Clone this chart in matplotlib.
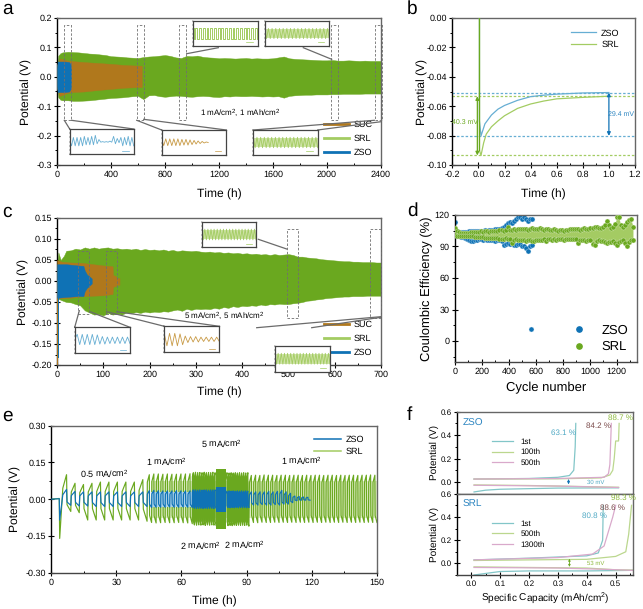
import numpy as np
import matplotlib
matplotlib.use("Agg")
import matplotlib.pyplot as plt
from matplotlib.lines import Line2D
from matplotlib.patches import Rectangle
from matplotlib.ticker import MultipleLocator, FormatStrFormatter, FuncFormatter

W, H = 643, 609

ZSO = "#0F72B5"
SRL = "#6AA81F"
SUC = "#B0781C"
ZSO_LIGHT = "#66AED3"
SRL_LIGHT = "#A3CC62"
F_CYAN = "#82C6C8"
F_GREEN = "#BBD78E"
F_PINK = "#D9A9CB"

# panel a: envelopes of the cycling traces
A_SRL_T = [0, 10, 25] + list(range(40, 2401, 40))
A_SRL_HI = [0.03, 0.072, 0.08,
            0.083, 0.085, 0.084, 0.083, 0.081, 0.079, 0.078, 0.076, 0.074, 0.07,
            0.069, 0.068, 0.066, 0.065, 0.064, 0.067, 0.069, 0.07, 0.072, 0.074,
            0.071, 0.066, 0.064, 0.071, 0.07, 0.072, 0.068, 0.066, 0.065, 0.063,
            0.064, 0.063, 0.062, 0.063, 0.064, 0.062, 0.063, 0.062, 0.062, 0.063,
            0.066, 0.069, 0.063, 0.061, 0.06, 0.059, 0.058, 0.057, 0.056, 0.056,
            0.057, 0.055, 0.055, 0.056, 0.055, 0.054, 0.055, 0.054, 0.054, 0.054]
A_SRL_LO = [-0.03, -0.07, -0.078,
            -0.08, -0.08, -0.082, -0.082, -0.081, -0.08, -0.078, -0.076, -0.074, -0.072,
            -0.071, -0.07, -0.068, -0.066, -0.065, -0.076, -0.063, -0.062, -0.066, -0.068,
            -0.066, -0.064, -0.065, -0.067, -0.068, -0.066, -0.065, -0.066, -0.068, -0.069,
            -0.066, -0.067, -0.065, -0.066, -0.066, -0.065, -0.066, -0.067, -0.066, -0.067,
            -0.066, -0.071, -0.065, -0.063, -0.062, -0.061, -0.061, -0.06, -0.06, -0.06,
            -0.059, -0.059, -0.058, -0.058, -0.058, -0.058, -0.057, -0.057, -0.057, -0.057]
A_SUC_T = [0, 20, 60, 100, 200, 300, 400, 500, 600, 628]
A_SUC_HI = [0.04, 0.062, 0.057, 0.054, 0.05, 0.047, 0.044, 0.04, 0.038, 0.038]
A_SUC_LO = [-0.04, -0.065, -0.058, -0.052, -0.05, -0.045, -0.041, -0.037, -0.035, -0.035]
A_ZSO_T = [0, 5, 60, 90, 100, 105]
A_ZSO_HI = [0.03, 0.052, 0.052, 0.05, 0.042, 0.028]
A_ZSO_LO = [-0.03, -0.052, -0.052, -0.05, -0.042, -0.028]

# panel b: first-cycle polarisation
B_ZSO_T = [0.008, 0.008, 0.02, 0.05, 0.1, 0.15, 0.2, 0.3, 0.4, 0.5, 0.6, 0.8, 1.0]
B_ZSO_V = [0.0, -0.07, -0.0802, -0.072, -0.066, -0.062, -0.0595, -0.056, -0.0535, -0.0525, -0.0518, -0.051, -0.0507]
B_SRL_T = [0.008, 0.008, 0.02, 0.04, 0.06, 0.1, 0.15, 0.2, 0.3, 0.4, 0.5, 0.6, 0.8, 1.0]
B_SRL_V = [0.0, -0.09, -0.0935, -0.085, -0.079, -0.074, -0.07, -0.0665, -0.0615, -0.0585, -0.0565, -0.055, -0.054, -0.0532]

# panel c: envelopes
C_SRL_T = [0, 3, 8, 15] + list(range(20, 701, 10))
C_SRL_HI = [0.03, 0.068, 0.05, 0.06,
            0.072, 0.073, 0.077, 0.075, 0.08, 0.077, 0.08, 0.077, 0.079, 0.08,
            0.077, 0.078, 0.076, 0.077, 0.075, 0.077, 0.074, 0.076, 0.074, 0.075,
            0.073, 0.075, 0.072, 0.074, 0.071, 0.073, 0.072, 0.071, 0.072, 0.07,
            0.069, 0.07, 0.068, 0.069, 0.067, 0.068, 0.066, 0.067, 0.065, 0.066,
            0.064, 0.065, 0.063, 0.064, 0.062, 0.064, 0.062, 0.063, 0.064, 0.062,
            0.058, 0.058, 0.056, 0.055, 0.054, 0.052, 0.051, 0.05, 0.049, 0.048,
            0.047, 0.047, 0.046, 0.046, 0.045, 0.045, 0.045, 0.044, 0.044]
C_SRL_LO = [-0.04, -0.042, -0.045, -0.048,
            -0.05, -0.051, -0.055, -0.058, -0.07, -0.075, -0.08, -0.079, -0.082, -0.076,
            -0.08, -0.078, -0.08, -0.075, -0.077, -0.074, -0.076, -0.073, -0.075, -0.073,
            -0.074, -0.072, -0.073, -0.07, -0.068, -0.071, -0.066, -0.069, -0.066, -0.067,
            -0.066, -0.067, -0.064, -0.066, -0.062, -0.064, -0.06, -0.062, -0.059, -0.06,
            -0.058, -0.059, -0.056, -0.058, -0.055, -0.056, -0.054, -0.055, -0.055, -0.053,
            -0.052, -0.05, -0.047, -0.046, -0.044, -0.043, -0.041, -0.04, -0.039, -0.038,
            -0.037, -0.037, -0.036, -0.036, -0.036, -0.035, -0.035, -0.035, -0.035]
C_SUC_T = [0, 10, 30, 55, 100, 120, 121, 127, 128, 135]
C_SUC_HI = [0.05, 0.046, 0.044, 0.043, 0.037, 0.035, 0.014, 0.012, 0.007, 0.007]
C_SUC_LO = [-0.042, -0.041, -0.04, -0.036, -0.034, -0.031, -0.014, -0.012, -0.009, -0.009]
C_ZSO_T = [0, 20, 45, 57, 60, 65, 70, 75]
C_ZSO_HI = [0.04, 0.04, 0.037, 0.036, 0.025, 0.015, 0.011, 0.006]
C_ZSO_LO = [-0.04, -0.038, -0.036, -0.036, -0.024, -0.016, -0.011, -0.006]

# panel d: coulombic efficiency, upper and lower edge of the scatter
ZSO_D_CYCLES = np.arange(0, 571, 15)
ZSO_D_HI = [113, 105, 104, 104, 104, 104, 104, 105, 105, 105, 105, 105, 105, 105, 105, 106, 105, 106, 106, 106,
            107, 107, 107, 108, 109, 110, 112, 113, 112, 114, 116, 118, 118, 116, 118, 116, 114, 116, 116]
ZSO_D_LO = [104, 100, 100, 99, 99, 98, 97, 96, 95, 95, 96, 96, 97, 97, 96, 97, 96, 96, 96, 96,
            95, 96, 96, 95, 91, 92, 93, 92, 93, 91, 91, 92, 92, 90, 90, 89, 86, 90, 91]
ZSO_D_OUTLIER = (565, 11)
SRL_D_CYCLES = np.arange(0, 1321, 15)
SRL_D_HI = [108, 105, 104, 103, 103, 103, 103, 103, 104, 104,
            104, 104, 104, 105, 104, 105, 105, 104, 105, 105,
            105, 105, 106, 106, 105, 106, 109, 106, 106, 107,
            106, 107, 107, 107, 107, 107, 106, 107, 108, 107,
            107, 107, 108, 107, 106, 107, 107, 106, 106, 107,
            106, 105, 106, 106, 105, 106, 106, 107, 107, 107,
            107, 107, 106, 107, 108, 107, 107, 108, 108, 109,
            109, 108, 108, 109, 110, 114, 110, 108, 109, 111,
            118, 118, 110, 109, 110, 113, 115, 116, 109]
SRL_D_LO = [101, 100, 100, 100, 100, 100, 100, 100, 100, 100,
            99, 99, 99, 99, 99, 98, 98, 98, 98, 98,
            98, 98, 97, 97, 97, 98, 97, 97, 93, 96,
            97, 96, 96, 96, 96, 95, 96, 96, 95, 95,
            96, 96, 96, 96, 97, 95, 97, 97, 96, 97,
            96, 97, 97, 97, 96, 97, 97, 97, 97, 97,
            97, 93, 96, 96, 96, 95, 96, 96, 92, 91,
            95, 96, 95, 95, 94, 93, 94, 94, 95, 93,
            91, 94, 95, 96, 93, 90, 94, 96, 96]

# panel e: rate test, one peak and one trough per cycle
E_INTRO_T = [0, 3.8, 4.0]
E_SRL_INTRO = [0.0, 0.003, -0.16]
E_ZSO_INTRO = [0.0, 0.002, -0.085]
E_SRL_05_PK = [0.10, 0.065, 0.06, 0.065, 0.07, 0.07, 0.07, 0.07, 0.07, 0.08]
E_SRL_05_TR = [-0.05, -0.055, -0.085, -0.085, -0.085, -0.085, -0.085, -0.085, -0.085, -0.09]
E_ZSO_05_PK = [0.04, 0.032, 0.03, 0.03, 0.03, 0.03, 0.03, 0.03, 0.03, 0.03]
E_ZSO_05_TR = [-0.025, -0.028, -0.028, -0.03, -0.03, -0.03, -0.03, -0.03, -0.03, -0.03]
E_SRL_1A_PK = [0.10, 0.103, 0.103, 0.102, 0.103, 0.102, 0.102, 0.103, 0.103, 0.104]
E_SRL_1A_TR = [-0.095, -0.097, -0.096, -0.095, -0.096, -0.096, -0.095, -0.096, -0.097, -0.1]
E_ZSO_1A_PK = [0.035, 0.036, 0.035, 0.034, 0.034, 0.034, 0.035, 0.034, 0.034, 0.034]
E_ZSO_1A_TR = [-0.034, -0.033, -0.033, -0.033, -0.032, -0.033, -0.033, -0.032, -0.033, -0.034]
E_SRL_2A_PK = [0.108, 0.11, 0.108, 0.109, 0.108, 0.11, 0.108, 0.109, 0.108, 0.11, 0.108]
E_SRL_2A_TR = [-0.105, -0.106, -0.105, -0.106, -0.105, -0.107, -0.105, -0.106, -0.105, -0.106, -0.108]
E_ZSO_2A_PK = [0.038, 0.038, 0.037, 0.038, 0.037, 0.038, 0.038, 0.037, 0.038, 0.038, 0.038]
E_ZSO_2A_TR = [-0.037, -0.038, -0.037, -0.037, -0.038, -0.037, -0.038, -0.037, -0.037, -0.038, -0.037]
E_5A_T = [76, 80.5]
E_SRL_5A_HI = [0.122, 0.122]
E_SRL_5A_LO = [-0.12, -0.12]
E_ZSO_5A_HI = [0.05, 0.05]
E_ZSO_5A_LO = [-0.053, -0.053]
E_SRL_2B_PK = [0.108, 0.107, 0.108, 0.107, 0.108, 0.107, 0.108, 0.107, 0.108, 0.107, 0.108]
E_SRL_2B_TR = [-0.108, -0.107, -0.108, -0.106, -0.107, -0.106, -0.107, -0.106, -0.107, -0.106, -0.11]
E_ZSO_2B_PK = [0.033, 0.034, 0.033, 0.034, 0.033, 0.034, 0.033, 0.034, 0.033, 0.034, 0.033]
E_ZSO_2B_TR = [-0.034, -0.035, -0.034, -0.035, -0.034, -0.035, -0.034, -0.035, -0.034, -0.035, -0.034]
E_SRL_1B_PK = [0.097, 0.098, 0.097, 0.099, 0.098, 0.098, 0.097, 0.098, 0.098, 0.097, 0.098, 0.098, 0.097, 0.098, 0.097,
               0.098, 0.098, 0.097, 0.098, 0.098, 0.097, 0.098, 0.097, 0.098, 0.098, 0.097, 0.098, 0.098, 0.099, 0.098]
E_SRL_1B_TR = [-0.095, -0.096, -0.094, -0.095, -0.095, -0.094, -0.095, -0.094, -0.095, -0.094, -0.095, -0.094, -0.095,
               -0.094, -0.095, -0.094, -0.095, -0.094, -0.095, -0.094, -0.095, -0.094, -0.095, -0.094, -0.095, -0.094,
               -0.095, -0.094, -0.095, -0.095]
E_ZSO_1B_PK = [0.03, 0.03, 0.03, 0.03, 0.032, 0.03, 0.032, 0.036, 0.03, 0.024, 0.013, 0.011, 0.009, 0.008]
E_ZSO_1B_TR = [-0.024, -0.024, -0.022, -0.024, -0.024, -0.022, -0.024, -0.02, -0.02, -0.014, -0.006, -0.004, -0.004, -0.004]
E_SRL_PALE_T = [46, 150]
E_SRL_PALE_HI = [0.075, 0.075]
E_SRL_PALE_LO = [-0.075, -0.075]
E_ZSO_PALE_T = [46, 65]
E_ZSO_PALE_HI = [0.03, 0.03]
E_ZSO_PALE_LO = [-0.03, -0.03]

# panel f: voltage profiles
F_ZSO_CURVES = [
    ([0.01, 0.2, 0.3, 0.34, 0.355, 0.36, 0.362], [0.025, 0.03, 0.04, 0.055, 0.1, 0.3, 0.5], F_CYAN, "1st"),
    ([0.01, 0.3, 0.45, 0.48, 0.49, 0.495, 0.5, 0.51, 0.512], [0.025, 0.027, 0.035, 0.06, 0.1, 0.2, 0.35, 0.35, 0.5], F_GREEN, "100th"),
    ([0.01, 0.3, 0.46, 0.475, 0.48, 0.485], [0.025, 0.03, 0.04, 0.07, 0.15, 0.5], F_PINK, "500th"),
]
F_ZSO_DIS = [
    ([0.01, 0.05, 0.1, 0.3, 0.51], [-0.085, -0.07, -0.062, -0.052, -0.05], F_CYAN),
    ([0.01, 0.2, 0.51], [-0.025, -0.03, -0.045], F_GREEN),
    ([0.01, 0.3, 0.51], [-0.028, -0.035, -0.047], F_PINK),
]
F_SRL_CURVES = [
    ([0.01, 0.2, 0.4, 0.44, 0.455, 0.457], [0.03, 0.045, 0.065, 0.09, 0.2, 0.5], F_CYAN, "1st"),
    ([0.01, 0.2, 0.4, 0.5, 0.535, 0.545, 0.555], [0.025, 0.03, 0.035, 0.06, 0.1, 0.25, 0.5], F_GREEN, "500th"),
    ([0.01, 0.3, 0.42, 0.46, 0.49, 0.5], [0.03, 0.05, 0.08, 0.15, 0.4, 0.5], F_PINK, "1300th"),
]
F_SRL_DIS = [
    ([0.01, 0.1, 0.2, 0.4, 0.56], [-0.1, -0.07, -0.065, -0.065, -0.06], F_CYAN),
    ([0.01, 0.2, 0.4, 0.5, 0.56], [-0.03, -0.035, -0.04, -0.055, -0.058], F_GREEN),
    ([0.01, 0.3, 0.45, 0.56], [-0.035, -0.04, -0.05, -0.06], F_PINK),
]

# small inset traces
INSET_A1 = [0.2, -0.4, 0.4, -0.4, 0.4, -0.4, 0.4, -0.4, 0.5, -0.3, 0.4, -0.3, 0.5, -0.3, 0.6, -0.2, 0.2, -0.05, 0.0, -0.05, 0.0,
            -0.05, 0.05, -0.05, 0.5, -0.2, 0.3, -0.1, 0.4, -0.4, 0.4, -0.3, 0.5, -0.4, 0.4, -0.4]
INSET_A2 = [0.3, -0.3, 0.35, -0.3, 0.35, -0.3, 0.35, -0.3, 0.35, -0.3, 0.3, -0.25, 0.3, -0.25, 0.25, -0.2, 0.2, -0.15, 0.15,
            -0.1, 0.1, -0.05, 0.05, 0.0]
INSET_A4 = [0.5, -0.5, 0.5, -0.5, 0.5, -0.5, 0.5, -0.5, 0.5, -0.5, 0.5, -0.5, 0.5, -0.5, 0.5, -0.5, 0.5, -0.5, 0.5, -0.5,
            0.5, -0.5, 0.5, -0.5, 0.5, -0.5, 0.5, -0.5, 0.5, -0.5, 0.5, -0.5, 0.5, -0.5, 0.5, -0.5]
INSET_C1 = [0.1, 0.55, -0.4, 0.55, -0.4, 0.55, -0.4, 0.55, -0.4, 0.5, -0.35, 0.35, -0.35, 0.3, -0.3, 0.3, -0.3, 0.3, -0.3, 0.3, -0.3, 0.3, -0.3]
INSET_C2 = [0.5, -0.6, 0.55, -0.6, 0.55, -0.6, 0.5, -0.5, 0.3, -0.3, 0.25, -0.25, 0.25, -0.25, 0.2, -0.2, 0.2, -0.2, 0.2, -0.2, 0.2, -0.2]


def px_axes(fig, left, top, right, bottom, **kw):
    return fig.add_axes([left / W, 1 - bottom / H, (right - left) / W, (bottom - top) / H], **kw)


def px_line(fig, x0, y0, x1, y1):
    fig.add_artist(Line2D([x0 / W, x1 / W], [1 - y0 / H, 1 - y1 / H], color="#6b6b6b", lw=0.9))


def style(ax, xmaj, xmin, ymaj, ymin, yfmt):
    ax.xaxis.set_major_locator(MultipleLocator(xmaj))
    ax.xaxis.set_minor_locator(MultipleLocator(xmin))
    ax.yaxis.set_major_locator(MultipleLocator(ymaj))
    ax.yaxis.set_minor_locator(MultipleLocator(ymin))
    # abs() guard stops the top tick of panel b printing as -0.00
    ax.yaxis.set_major_formatter(FuncFormatter(lambda v, _: yfmt % (0.0 if abs(v) < 1e-9 else v)))
    ax.tick_params(which="major", direction="inout", length=4.5, width=0.8, labelsize=6.6, pad=1.5)
    ax.tick_params(axis="y", which="minor", direction="out", length=1.8, width=0.7)
    ax.tick_params(axis="x", which="minor", direction="in", length=1.8, width=0.7)
    for side in ["top", "right"]:
        ax.spines[side].set_color("#666666")
    ax.spines["bottom"].set_color("#444444")
    for side in ax.spines:
        ax.spines[side].set_linewidth(1.0)


def band(ax, t, hi, lo, color, z):
    ax.fill_between(t, lo, hi, color=color, lw=0.3, zorder=z)


def dashed_box(ax, t0, t1, y0, y1):
    ax.add_patch(Rectangle((t0, y0), t1 - t0, y1 - y0, fill=False, ec="#6f6f6f", lw=0.6, ls=(0, (3, 2)),
                           zorder=6, clip_on=False))


def inset(fig, box, color, wave=None, fill=None, key=None):
    ax = px_axes(fig, *box, zorder=8)
    ax.set_xlim(0, 1)
    ax.set_ylim(-1.2, 1.2)
    ax.set_xticks(np.linspace(0, 1, 7))
    ax.set_yticks(np.linspace(-1.2, 1.2, 7))
    ax.tick_params(length=1, width=0.3, labelleft=False, labelbottom=False)
    for side in ax.spines:
        ax.spines[side].set_linewidth(0.9)
        ax.spines[side].set_color("#444444")
    if fill is not None:
        ax.fill_between([0, 1], [-0.45, -0.45], [0.45, 0.45], color=fill, lw=0)
    if wave is not None:
        wave = np.asarray(wave)
        if key == "tail":
            t = np.linspace(0, 0.72, len(wave))
        else:
            t = np.linspace(0, 1, len(wave))
        if key == "square":
            ax.step(t, wave, where="mid", color=color, lw=0.7)
        else:
            ax.plot(t, wave, color=color, lw=0.6)
    ax.plot([0.82, 0.92], [-0.85, -0.85], color=color, lw=0.5)
    return ax


def zigzag(start, period, peaks, troughs, jump):
    """One parallelogram-shaped cycle per peak/trough pair."""
    t, v = [], []
    for i, (pk, tr) in enumerate(zip(peaks, troughs)):
        t0 = start + i * period
        t += [t0 + 0.06 * period, t0 + 0.5 * period, t0 + 0.56 * period, t0 + period]
        v += [jump * pk, pk, jump * tr, tr]
    return t, v


def rate_trace(intro_t, intro_v, sections):
    t, v = list(intro_t), list(intro_v)
    for start, period, pk, tr, jump in sections:
        st, sv = zigzag(start, period, pk, tr, jump)
        t += st
        v += sv
    return t, v


plt.rcParams["font.family"] = ["Liberation Sans", "DejaVu Sans"]
plt.rcParams["mathtext.default"] = "regular"
plt.rcParams["axes.unicode_minus"] = False
plt.rcParams["text.hinting"] = "no_hinting"
plt.rcParams["text.hinting_factor"] = 1

fig = plt.figure(figsize=(W / 100, H / 100), dpi=100)

for letter, x, y in [("a", 2, 9), ("b", 407, 9), ("c", 2, 212), ("d", 407, 211), ("e", 2, 416), ("f", 407, 415)]:
    fig.text(x / W, 1 - y / H, letter, fontsize=14, va="center", ha="left")

legend_handles = [Line2D([], [], color=SUC, lw=2), Line2D([], [], color=SRL_LIGHT, lw=2), Line2D([], [], color=ZSO, lw=2)]

# panel a
ax = px_axes(fig, 57, 18, 381, 165)
band(ax, A_SRL_T, A_SRL_HI, A_SRL_LO, SRL, 2)
band(ax, A_SUC_T, A_SUC_HI, A_SUC_LO, SUC, 3)
band(ax, A_ZSO_T, A_ZSO_HI, A_ZSO_LO, ZSO, 4)
ax.plot([2, 2], [0, -0.13], color=SRL_LIGHT, lw=0.7, zorder=1)
ax.set_xlim(0, 2400)
ax.set_ylim(-0.3, 0.2)
style(ax, 400, 200, 0.1, 0.05, "%.1f")
ax.set_xlabel("Time (h)", fontsize=8.7, labelpad=7)
ax.set_ylabel("Potential (V)", fontsize=8.7, labelpad=3)
for t0, t1 in [(54, 106), (590, 643), (907, 959), (2027, 2079), (2353, 2405)]:
    dashed_box(ax, t0, t1, -0.148, 0.177)
ax.text(1357, -0.124, "1 mA/cm$^2$, 1 mAh/cm$^2$", fontsize=6, ha="center", va="center")
ax.legend(legend_handles, ["SUC", "SRL", "ZSO"], loc="lower right", bbox_to_anchor=(1.0, 0.0), frameon=False,
          fontsize=6.4, handlelength=2.8, labelspacing=0.65, borderaxespad=0.5, handletextpad=0.6)
inset(fig, (69.7, 129, 133.7, 154.3), ZSO_LIGHT, INSET_A1)
inset(fig, (161.7, 130, 226.3, 155), "#C89A45", INSET_A2, key="tail")
inset(fig, (253.3, 130, 317.7, 155), SRL_LIGHT, INSET_A4, fill="#CFE3A8")
inset(fig, (192.7, 21.3, 257.7, 45.7), SRL_LIGHT, INSET_A4, key="square")
inset(fig, (264.7, 21.3, 329.3, 45.7), SRL_LIGHT, INSET_A4, fill="#CFE3A8")
for seg in [(71.5, 120.3, 133.7, 129), (64.3, 120.3, 69.7, 129), (136.7, 120.3, 161.7, 130), (143.7, 119.3, 226.3, 130),
            (374.3, 120.3, 253.3, 130), (381, 121.7, 317.7, 130), (186.7, 53.7, 218.3, 47.7), (303.3, 47.7, 331.7, 59.3)]:
    px_line(fig, *seg)

# panel b
ax = px_axes(fig, 452.3, 18, 635, 165)
for level, c in [(-0.0507, ZSO_LIGHT), (-0.0532, SRL_LIGHT), (-0.0802, ZSO_LIGHT), (-0.0935, SRL_LIGHT)]:
    ax.axhline(level, color=c, lw=0.9, ls=(0, (2, 1.5)), zorder=1)
ax.plot(B_ZSO_T, B_ZSO_V, color=ZSO_LIGHT, lw=0.9, label="ZSO", zorder=3)
ax.plot(B_SRL_T, B_SRL_V, color=SRL_LIGHT, lw=0.9, label="SRL", zorder=3)
ax.plot([0.008, 0.008], [0, -0.09], color=SRL, lw=0.9, zorder=4)
ax.annotate("", xy=(-0.008, -0.0532), xytext=(-0.008, -0.0935),
            arrowprops=dict(arrowstyle="<|-|>", color=SRL, lw=0.9, mutation_scale=5, shrinkA=0, shrinkB=0))
ax.annotate("", xy=(1.0, -0.0507), xytext=(1.0, -0.0802),
            arrowprops=dict(arrowstyle="<|-|>", color=ZSO, lw=0.9, mutation_scale=5, shrinkA=0, shrinkB=0))
ax.text(-0.10, -0.0707, "40.3 mV", color=SRL, fontsize=5, ha="center", va="center")
ax.text(1.096, -0.0652, "29.4 mV", color="#2E86C1", fontsize=5, ha="center", va="center")
ax.set_xlim(-0.2, 1.2)
ax.set_ylim(-0.1, 0.0)
style(ax, 0.2, 0.1, 0.02, 0.01, "%.2f")
ax.xaxis.set_major_formatter(FormatStrFormatter("%.1f"))
ax.set_xlabel("Time (h)", fontsize=8.7, labelpad=7)
ax.set_ylabel("Potential (V)", fontsize=8.7, labelpad=-1)
ax.legend(loc="upper right", bbox_to_anchor=(0.96, 0.98), frameon=False, fontsize=6.4, handlelength=2.8,
          labelspacing=0.4, handletextpad=0.6)

# panel c
ax = px_axes(fig, 57, 218, 381, 365)
band(ax, C_SRL_T, C_SRL_HI, C_SRL_LO, SRL, 2)
band(ax, C_SUC_T, C_SUC_HI, C_SUC_LO, SUC, 3)
band(ax, C_ZSO_T, C_ZSO_HI, C_ZSO_LO, ZSO, 4)
ax.plot([1, 1], [0, -0.2], color=SUC, lw=0.7, zorder=3)
ax.plot([2, 2], [0, -0.18], color=ZSO, lw=0.7, zorder=4)
ax.set_xlim(0, 700)
ax.set_ylim(-0.2, 0.15)
style(ax, 100, 50, 0.05, 0.025, "%.2f")
ax.set_xlabel("Time (h)", fontsize=8.7, labelpad=6)
ax.set_ylabel("Potential (V)", fontsize=8.7, labelpad=2)
for t0, t1, y0, y1 in [(46, 70, -0.078, 0.071), (106, 129, -0.078, 0.071), (497, 520, -0.087, 0.125), (677, 700, -0.087, 0.125)]:
    dashed_box(ax, t0, t1, y0, y1)
ax.text(361, -0.083, "5 mA/cm$^2$, 5 mAh/cm$^2$", fontsize=6, ha="center", va="center")
ax.legend(legend_handles, ["SUC", "SRL", "ZSO"], loc="lower right", bbox_to_anchor=(1.0, 0.0), frameon=False,
          fontsize=6.4, handlelength=2.8, labelspacing=0.65, borderaxespad=0.5, handletextpad=0.6)
inset(fig, (74.7, 327.3, 130, 353.3), ZSO_LIGHT, INSET_C1)
inset(fig, (164.3, 326.3, 219.3, 352.3), "#C89A45", INSET_C2)
inset(fig, (201.7, 221.7, 256, 247.3), SRL_LIGHT, INSET_A4, fill="#CFE3A8")
inset(fig, (275, 345.7, 330, 371.7), SRL_LIGHT, INSET_A4, fill="#CFE3A8")
for seg in [(79.3, 310.7, 74.7, 327.3), (90, 311.7, 130, 327.3), (106.7, 311.7, 164.3, 326.3), (116.7, 311.7, 219.3, 326.3),
            (256.7, 327.7, 380.7, 316.7), (311.7, 327.7, 380.7, 317.3), (258.3, 239.3, 286.7, 249)]:
    px_line(fig, *seg)

# panel d
ax = px_axes(fig, 455, 215, 637, 362)
ax.fill_between(SRL_D_CYCLES, SRL_D_LO, SRL_D_HI, color="#A4CB63", lw=0, zorder=3)
ax.scatter(ZSO_D_CYCLES, ZSO_D_HI, s=13, color=ZSO, edgecolors="#cfe4f2", linewidths=0.25, zorder=2)
ax.scatter(ZSO_D_CYCLES, ZSO_D_LO, s=13, color=ZSO, edgecolors="#cfe4f2", linewidths=0.25, zorder=2)
ax.scatter(*ZSO_D_OUTLIER, s=13, color=ZSO, edgecolors="#cfe4f2", linewidths=0.25, zorder=2)
ax.scatter(SRL_D_CYCLES, SRL_D_HI, s=13, color=SRL, edgecolors="#e8f2d8", linewidths=0.25, zorder=4)
ax.scatter(SRL_D_CYCLES, SRL_D_LO, s=13, color=SRL, edgecolors="#e8f2d8", linewidths=0.25, zorder=4)
ax.set_xlim(0, 1350)
ax.set_ylim(-20, 120)
style(ax, 200, 100, 30, 15, "%d")
ax.set_xlabel("Cycle number", fontsize=9, labelpad=4.5)
ax.set_ylabel("Coulombic Efficiency (%)", fontsize=9, labelpad=1)
ax.legend([Line2D([], [], ls="", marker="o", ms=3.8, color=ZSO), Line2D([], [], ls="", marker="o", ms=3.8, color=SRL)],
          ["ZSO", "SRL"], loc="lower right", frameon=False, fontsize=9.3, handletextpad=0.7, labelspacing=0.35,
          borderaxespad=0.3)

# panel e
ax = px_axes(fig, 51, 425.7, 377, 572.7)
srl_t, srl_v = rate_trace(E_INTRO_T, E_SRL_INTRO, [
    (5.2, 3.9, E_SRL_05_PK, E_SRL_05_TR, 0.45),
    (44.2, 2.08, E_SRL_1A_PK, E_SRL_1A_TR, 0.7),
    (65, 1.0, E_SRL_2A_PK, E_SRL_2A_TR, 0.85),
    (80.5, 0.96, E_SRL_2B_PK, E_SRL_2B_TR, 0.85),
    (91.2, 1.96, E_SRL_1B_PK, E_SRL_1B_TR, 0.7),
])
zso_t, zso_v = rate_trace(E_INTRO_T, E_ZSO_INTRO, [
    (5.2, 3.9, E_ZSO_05_PK, E_ZSO_05_TR, 0.45),
    (44.2, 2.08, E_ZSO_1A_PK, E_ZSO_1A_TR, 0.6),
    (65, 1.0, E_ZSO_2A_PK, E_ZSO_2A_TR, 0.8),
    (80.5, 0.96, E_ZSO_2B_PK, E_ZSO_2B_TR, 0.8),
    (91.2, 2.0, E_ZSO_1B_PK, E_ZSO_1B_TR, 0.6),
])
ax.fill_between(E_SRL_PALE_T, E_SRL_PALE_LO, E_SRL_PALE_HI, color="#DDECC2", lw=0, zorder=1)
ax.plot(srl_t, srl_v, color=SRL, lw=0.85, zorder=2)
ax.fill_between(E_ZSO_PALE_T, E_ZSO_PALE_LO, E_ZSO_PALE_HI, color="#A9D1E9", lw=0, zorder=2.5)
ax.plot(zso_t, zso_v, color=ZSO, lw=0.85, zorder=3)
ax.fill_between(E_5A_T, E_SRL_5A_LO, E_SRL_5A_HI, color=SRL, lw=0, zorder=4)
ax.fill_between(E_5A_T, E_ZSO_5A_LO, E_ZSO_5A_HI, color=ZSO, lw=0, zorder=5)
ax.set_xlim(0, 150)
ax.set_ylim(-0.3, 0.3)
style(ax, 30, 15, 0.15, 0.075, "%.2f")
ax.set_xlabel("Time (h)", fontsize=8.7, labelpad=7)
ax.set_ylabel("Potential (V)", fontsize=8.7, labelpad=3)
for txt, t, y in [("0.5 mA/cm$^2$", 24.4, 0.107), ("1 mA/cm$^2$", 53.2, 0.155), ("5 mA/cm$^2$", 78.5, 0.228),
                  ("1 mA/cm$^2$", 115, 0.159), ("2 mA/cm$^2$", 68.5, -0.188), ("2 mA/cm$^2$", 89, -0.184)]:
    ax.text(t, y, txt, fontsize=6.4, ha="center", va="center")
ax.legend([Line2D([], [], color=ZSO, lw=1.1), Line2D([], [], color=SRL_LIGHT, lw=1.1)], ["ZSO", "SRL"], loc="upper right",
          bbox_to_anchor=(0.985, 0.99), frameon=False, fontsize=6.4, handlelength=3, labelspacing=0.4, handletextpad=0.5)

# panel f
ax_top = px_axes(fig, 456.7, 411.7, 633, 493.7)
ax_bot = px_axes(fig, 456.7, 493.7, 633, 575)
for ax, curves, dis in [(ax_top, F_ZSO_CURVES, F_ZSO_DIS), (ax_bot, F_SRL_CURVES, F_SRL_DIS)]:
    for x, y, c, lab in curves:
        ax.plot(x, y, color=c, lw=0.9, label=lab)
    for x, y, c in dis:
        ax.plot(x, y, color=c, lw=0.9)
    ax.set_xlim(-0.05, 0.56)
    ax.set_ylim(-0.1, 0.6)
    style(ax, 0.1, 0.05, 0.2, 0.1, "%.1f")
    ax.xaxis.set_major_formatter(FormatStrFormatter("%.1f"))
    ax.tick_params(axis="both", which="major", labelsize=6)
    ax.set_ylabel("Potential (V)", fontsize=7.4, labelpad=1)
    ax.legend(loc="upper left", bbox_to_anchor=(0.18, 0.72), frameon=False, fontsize=5.8, handlelength=2.6,
              labelspacing=0.4, handletextpad=1.0, borderaxespad=0)
ax_top.tick_params(axis="x", which="both", bottom=False, labelbottom=False)
ax_bot.set_xlabel("Specific Capacity (mAh/cm$^2$)", fontsize=7.4, labelpad=2)
ax_top.text(-0.03, 0.505, "ZSO", color="#2E86C1", fontsize=7.5, va="center")
ax_bot.text(-0.03, 0.505, "SRL", color="#2E86C1", fontsize=7.5, va="center")
for ax, txt, x, y, c in [(ax_top, "63.1 %", 0.32, 0.42, "#4FA9C4"), (ax_top, "84.2 %", 0.44, 0.48, "#7A4A4A"),
                         (ax_top, "88.7 %", 0.518, 0.55, "#8DB93E"), (ax_top, "30 mV", 0.43, -0.004, "#4FA9C4"),
                         (ax_bot, "80.8 %", 0.425, 0.405, "#4FA9C4"), (ax_bot, "88.6 %", 0.49, 0.48, "#7A4A4A"),
                         (ax_bot, "98.3 %", 0.528, 0.56, "#8DB93E"), (ax_bot, "53 mV", 0.43, 0.0, "#8DB93E")]:
    ax.text(x, y, txt, color=c, fontsize=5.6 if "mV" not in txt else 4.6, ha="center", va="center")
ax_top.annotate("", xy=(0.337, 0.025), xytext=(0.337, -0.02),
                arrowprops=dict(arrowstyle="<|-|>", color=ZSO, lw=0.6, mutation_scale=3, shrinkA=0, shrinkB=0))
ax_bot.annotate("", xy=(0.34, 0.04), xytext=(0.34, -0.03),
                arrowprops=dict(arrowstyle="<|-|>", color=SRL, lw=0.6, mutation_scale=3, shrinkA=0, shrinkB=0))

fig.savefig("out.png", dpi=100)
